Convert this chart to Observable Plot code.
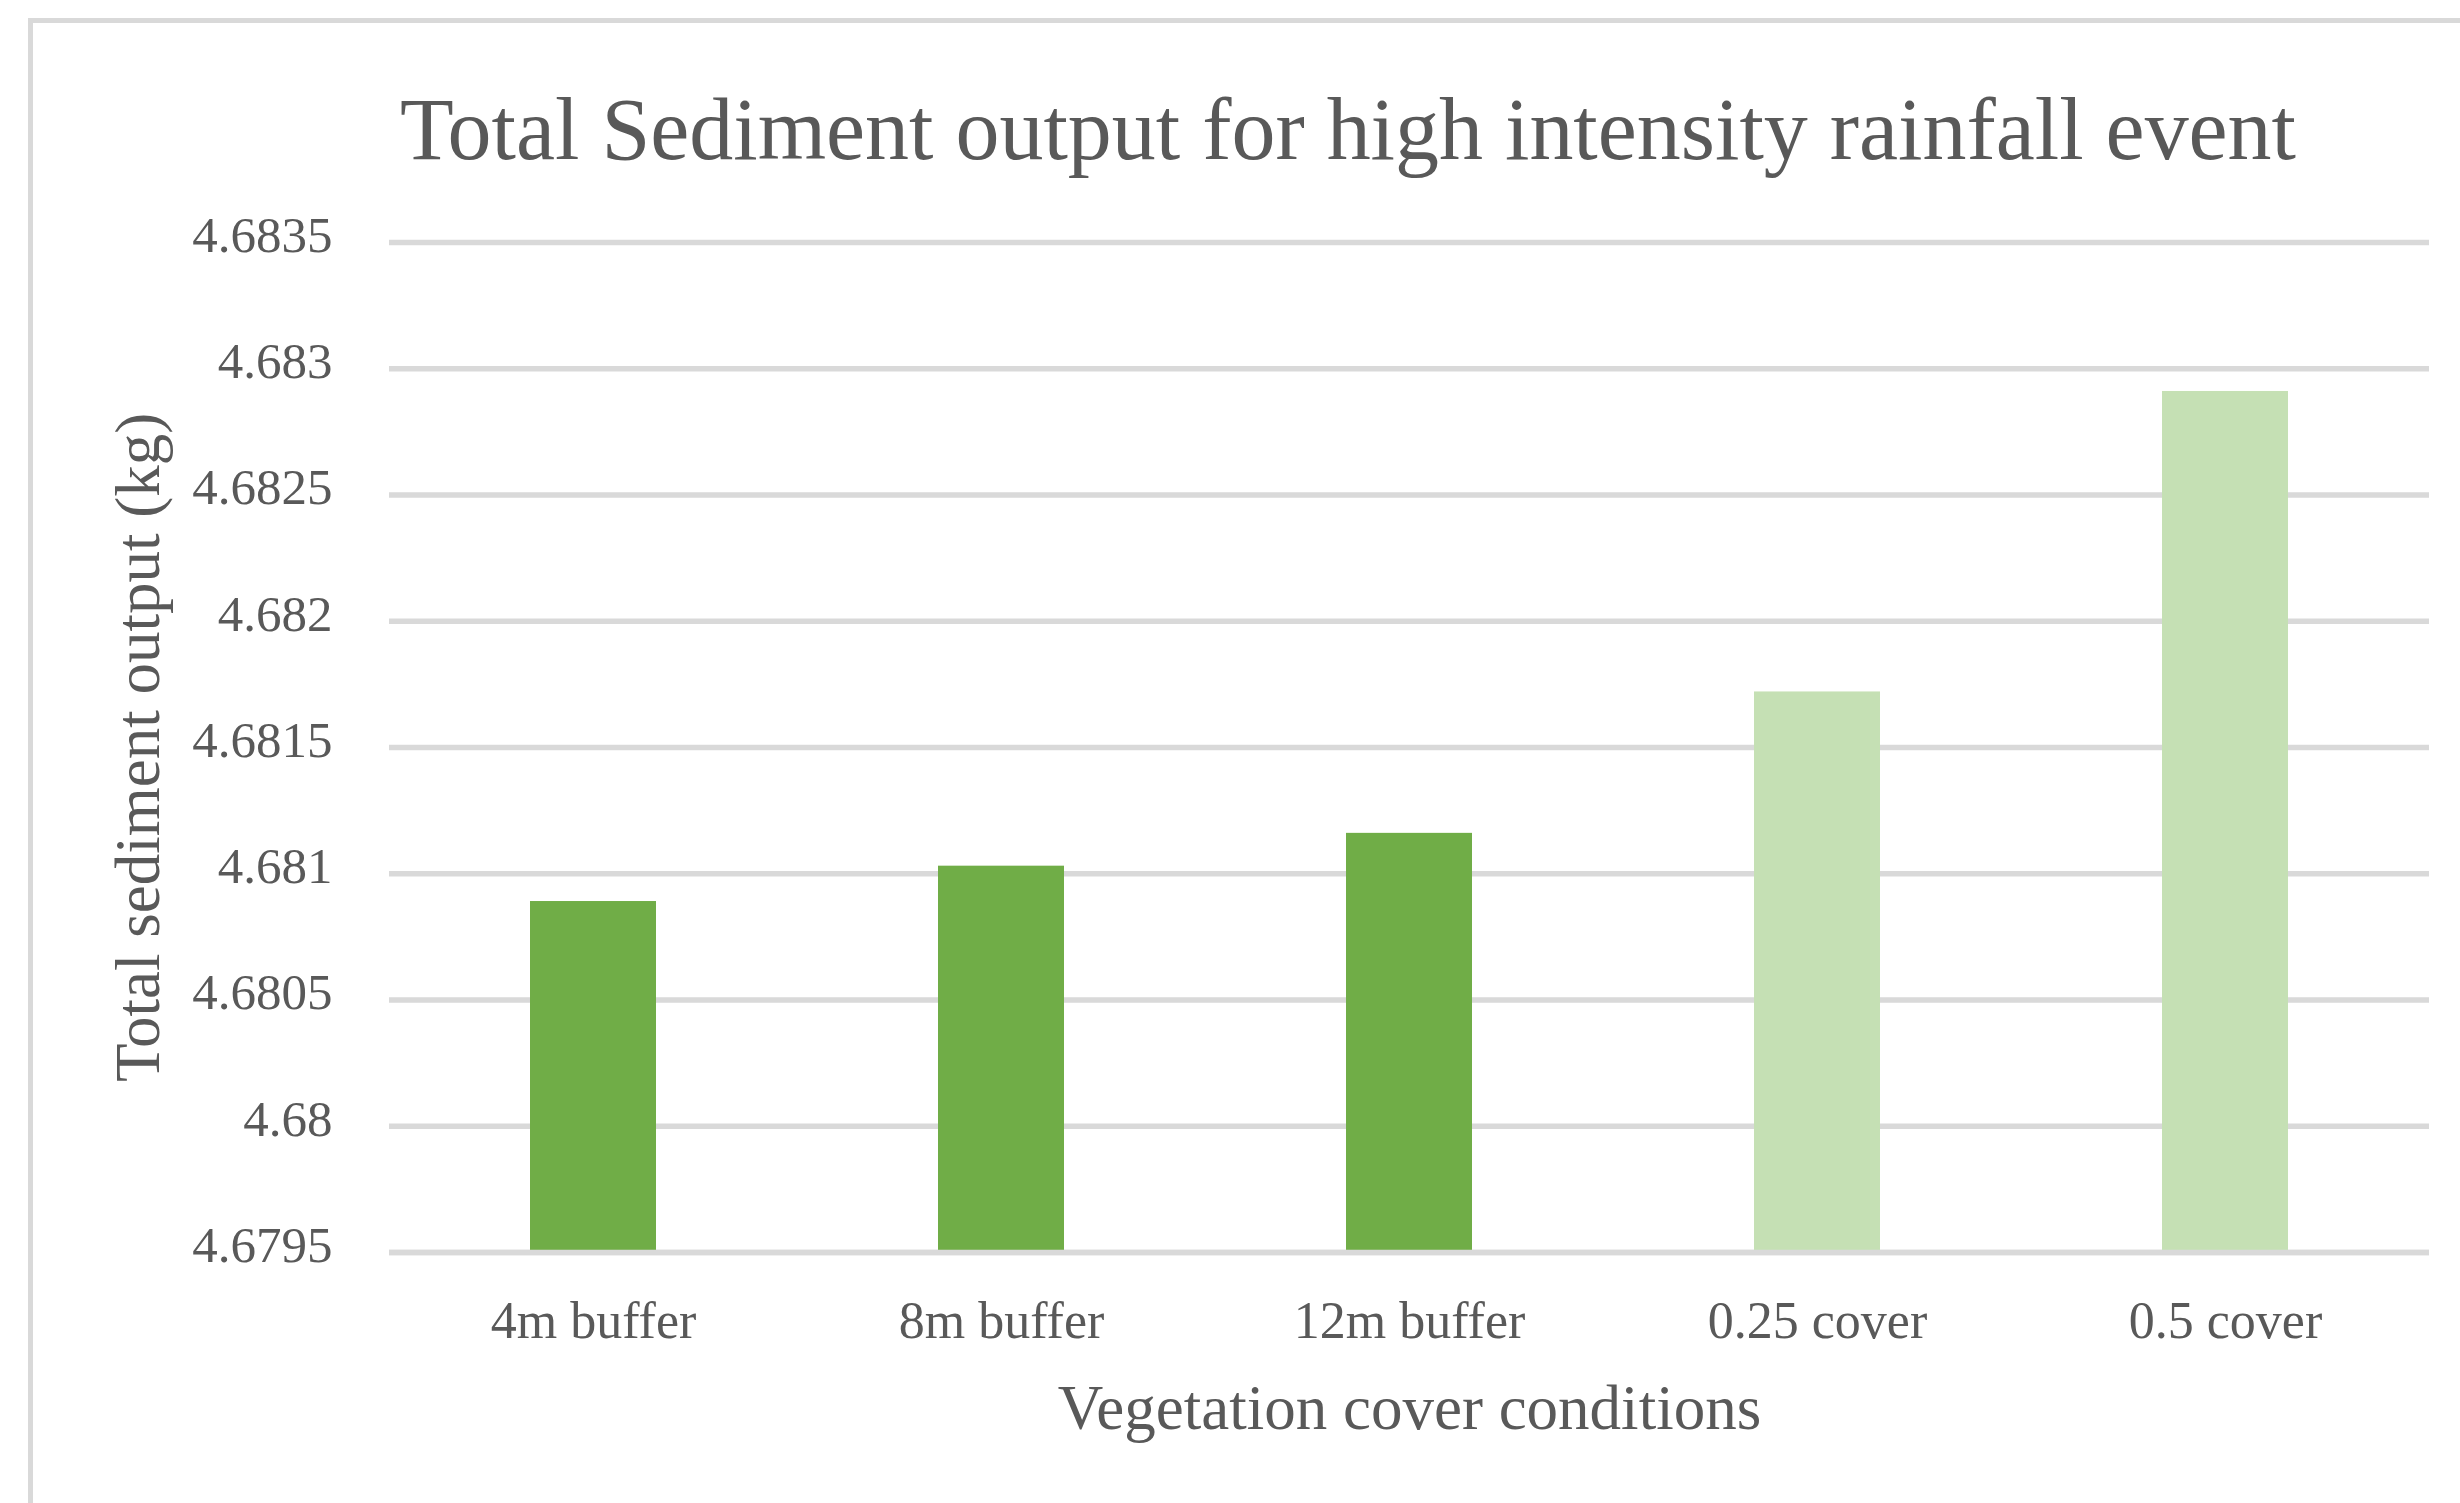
<!DOCTYPE html>
<html>
<head>
<meta charset="utf-8">
<script src="https://cdn.jsdelivr.net/npm/d3@7"></script>
<script src="https://cdn.jsdelivr.net/npm/@observablehq/plot@0.6"></script>
<style>
  html, body { margin: 0; padding: 0; background: #fff; }
  #wrap { position: relative; width: 2460px; height: 1503px; overflow: hidden; background: #fff; }
  #frame { position: absolute; left: 28px; top: 18px; width: 3000px; height: 3000px;
           border-top: 5px solid #d9d9d9; border-left: 5px solid #d9d9d9; }
  #title { position: absolute; left: 400px; top: 86px; font-family: "Liberation Serif", serif;
           font-size: 88px; line-height: 1; color: #595959; white-space: nowrap; transform-origin: left center; }
  #chart { position: absolute; left: 0; top: 190px; }
</style>
</head>
<body>
<div id="wrap">
  <div id="frame"></div>
  <div id="title">Total Sediment output for high intensity rainfall event</div>
  <div id="chart"></div>
</div>
<script>
// ---- data ----
const categories = ["4m buffer", "8m buffer", "12m buffer", "0.25 cover", "0.5 cover"];
const values = [4.68089, 4.68103, 4.68116, 4.68172, 4.68291];
const groups = ["buffer", "buffer", "buffer", "cover", "cover"];
const yTicks = [4.6795, 4.68, 4.6805, 4.681, 4.6815, 4.682, 4.6825, 4.683, 4.6835];
const yMin = 4.6795, yMax = 4.6835;
const yTitle = "Total sediment output (kg)";
const xTitle = "Vegetation cover conditions";

const rows = categories.map((c, i) => ({category: c, value: values[i], group: groups[i]}));

const W = 2460, H = 1313;
const chart = Plot.plot({
  width: W,
  height: H,
  marginLeft: 389,
  marginRight: 31,
  marginTop: 52,
  marginBottom: 251,
  style: {fontFamily: "'Liberation Serif', serif", fontSize: "52px", color: "#595959", background: "transparent"},
  x: {domain: categories, paddingInner: 0.69, paddingOuter: 0.345, label: null},
  y: {domain: [yMin, yMax], label: null},
  color: {domain: ["buffer", "cover"], range: ["#70AD47", "#C5E0B4"]},
  marks: [
    Plot.ruleY(yTicks, {stroke: "#d9d9d9", strokeWidth: 5.5}),
    Plot.barY(rows, {x: "category", y1: yMin, y2: "value", fill: "group"}),
    Plot.ruleY([yMin], {stroke: "#d9d9d9", strokeWidth: 5.5}),
    Plot.axisY({ticks: yTicks, tickSize: 0, tickPadding: 57, dy: -7, fontSize: 51,
                tickFormat: d => String(+d.toFixed(4)), label: null}),
    Plot.axisX({tickSize: 0, tickPadding: 49, fontSize: 52, label: null}),
    Plot.text([yTitle], {frameAnchor: "left", rotate: -90, dx: -231, lineAnchor: "bottom",
                         textAnchor: "middle", fontSize: 63, fill: "#595959"}),
    Plot.text([xTitle], {frameAnchor: "bottom", dy: 176, lineAnchor: "bottom",
                         textAnchor: "middle", fontSize: 63, fill: "#595959"})
  ]
});
document.getElementById("chart").appendChild(chart);

// fit the title to its width in the reference
const t = document.getElementById("title");
const tw = t.getBoundingClientRect().width;
t.style.transform = `scaleX(${1896 / tw})`;
</script>
</body>
</html>
